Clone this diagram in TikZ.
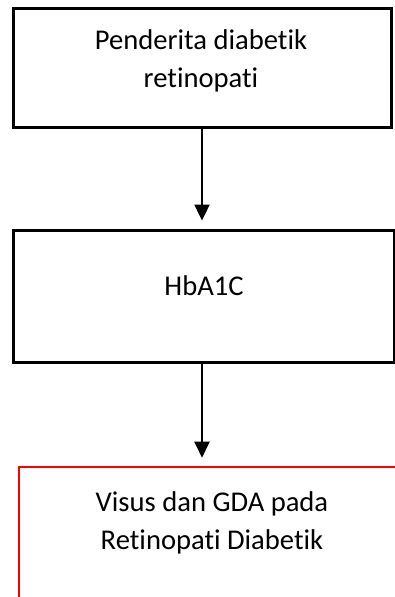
\documentclass[tikz,border=0pt]{standalone}
\usepackage{fontspec}
\setmainfont{Carlito}[Ligatures=NoCommon]
\usetikzlibrary{arrows.meta}

\definecolor{boxline}{RGB}{0,0,0}
\definecolor{outred}{RGB}{255,0,0}

\tikzset{
  stepbox/.style={draw=boxline, line width=3pt, rectangle, inner sep=0pt},
  outbox/.style={draw=outred, line width=2.6pt, rectangle, inner sep=0pt},
  boxtext/.style={align=center, anchor=base, inner sep=0pt,
    font=\fontsize{28.6}{38}\selectfont},
  flowarrow/.style={line width=2.4pt, -{Triangle[width=15pt,length=16pt]}, shorten >=8pt}
}

\begin{document}
\begin{tikzpicture}[x=1pt, y=-1pt]

  \useasboundingbox (0,0) rectangle (395,597);
  \clip (0,0) rectangle (395,597);

  % boxes
  \node[stepbox, minimum width=378pt, minimum height=119pt] (box1) at (202,67.5) {};
  \node[stepbox, minimum width=381pt, minimum height=132pt] (box2) at (203.5,296) {};
  \node[outbox, minimum width=401pt, minimum height=131pt] (box3) at (219.5,532.5) {};

  % box texts (base = last line)
  \node[boxtext] (txt1) at (201,87) {Penderita diabetik\\retinopati};
  \node[boxtext] (txt2) at (204,295) {HbA1C};
  \node[boxtext] (txt3) at (212,549) {Visus dan GDA pada\\Retinopati Diabetik};

  % connectors
  \draw[flowarrow] (box1.south) -- (box1.south |- box2.north);
  \draw[flowarrow] (box2.south -| box1.south) -- (box1.south |- box3.north);

\end{tikzpicture}
\end{document}
